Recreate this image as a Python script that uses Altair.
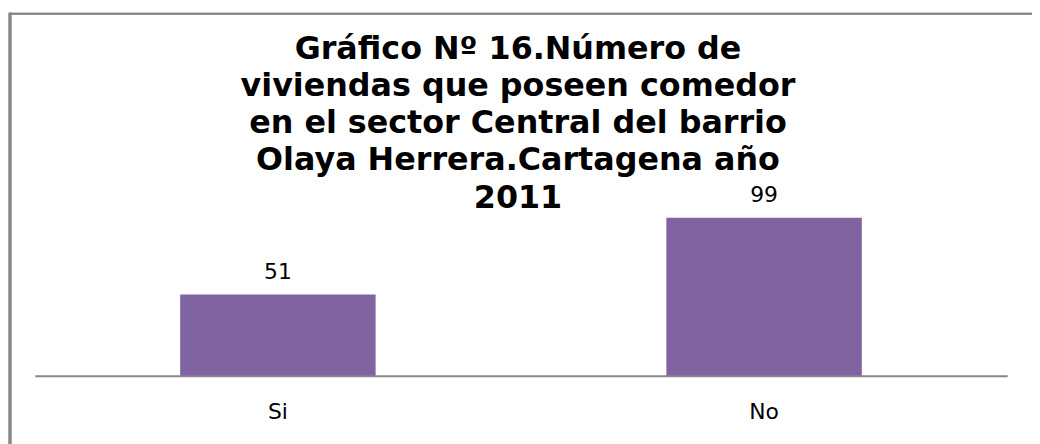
import altair as alt
import pandas as pd

categories = ["Si", "No"]
values = [51, 99]
title_lines = [
    "Gráfico Nº 16.Número de",
    "viviendas que poseen comedor",
    "en el sector Central del barrio",
    "Olaya Herrera.Cartagena año",
    "2011",
]

df = pd.DataFrame({"cat": categories, "val": values})

x_enc = alt.X("cat:N", sort=categories,
              scale=alt.Scale(paddingInner=0.598, paddingOuter=0.299),
              axis=alt.Axis(title=None, labelAngle=0, ticks=False, domainColor="#878787",
                            domainWidth=2, labelFont="DejaVu Sans", labelFontSize=22,
                            labelColor="#000000", labelPadding=26, grid=False))
y_enc = alt.Y("val:Q", scale=alt.Scale(domain=[0, 105], nice=False), axis=None)

base = alt.Chart(df)
bars = base.mark_bar(color="#8064A2").encode(x=x_enc, y=y_enc)
labels = base.mark_text(dy=-23, baseline="middle", font="DejaVu Sans", fontSize=22,
                        color="#000000").encode(x=x_enc, y=y_enc, text="val:Q")

border_left = alt.Chart(df).mark_rule(color="#878787", strokeWidth=3).encode(
    x=alt.value(-25), y=alt.value(-197), y2=alt.value(240))
border_top = alt.Chart(df).mark_rule(color="#878787", strokeWidth=2).encode(
    x=alt.value(-26), x2=alt.value(1010), y=alt.value(-196))

chart = alt.layer(border_left, border_top, bars, labels).properties(
    width=980, height=169,
    title=alt.TitleParams(text=title_lines, font="DejaVu Sans", fontWeight="bold",
                          fontSize=32, lineHeight=37.5, color="#000000",
                          anchor="middle", dx=-3, offset=-205),
    autosize=alt.AutoSizeParams(type="none"),
    padding={"left": 27, "right": 25, "top": 200, "bottom": 67},
).configure(background="#ffffff", view=alt.ViewConfig(stroke=None))

chart.save("out.html", embed_options={"renderer": "svg", "actions": False})
